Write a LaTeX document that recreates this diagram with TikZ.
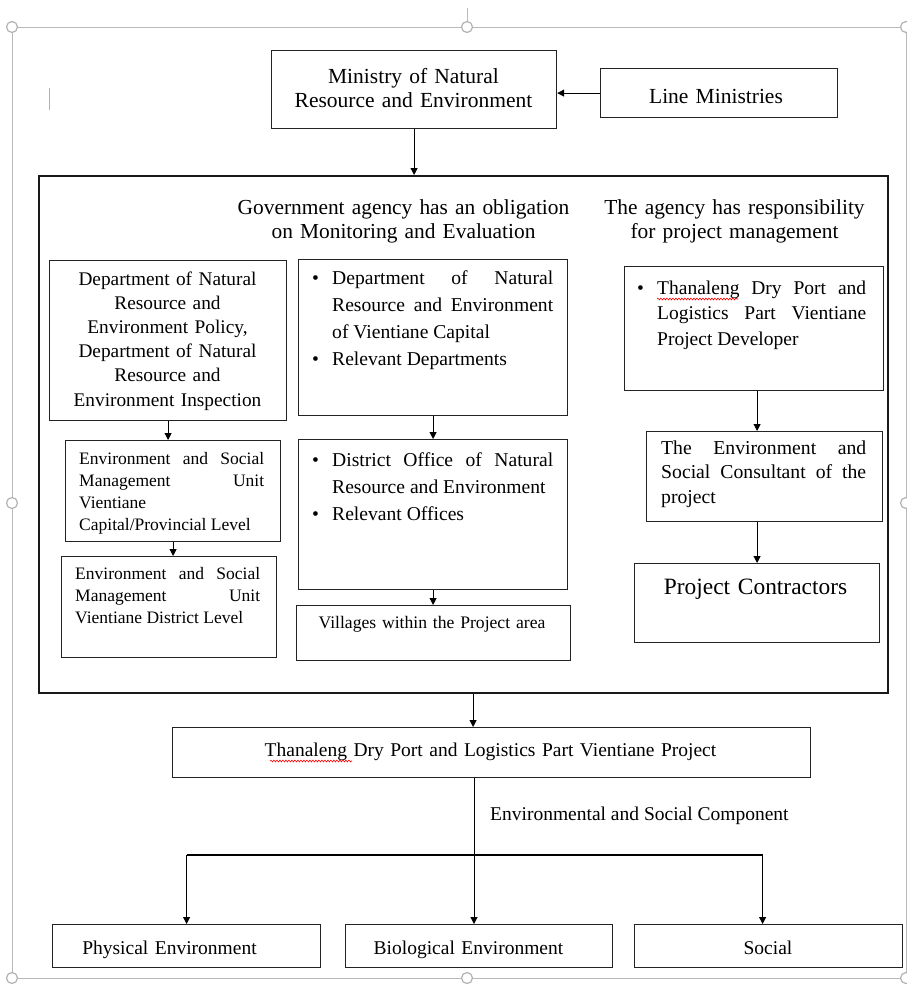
\documentclass[tikz,border=0pt]{standalone}
\usepackage{fontspec}
\setmainfont{Liberation Serif}
\usetikzlibrary{arrows.meta,decorations.pathmorphing}
\definecolor{boxc}{RGB}{35,35,35}
\newcommand{\bitem}[2]{\hangindent=#1\hangafter=1\makebox[#1][l]{\textbullet}#2}
\tikzset{
 bx/.style={draw=boxc, line width=1.2pt, inner sep=0pt, anchor=north west},
 tx/.style={inner sep=0pt, anchor=base west, align=justify},
 ctx/.style={inner sep=0pt, anchor=base, align=center},
 arr/.style={draw=black, line width=1pt, -{Triangle[length=7pt,width=7pt]}},
 frm/.style={draw=gray!55, line width=1pt},
 hdl/.style={draw=gray!60, fill=white, line width=1.2pt, circle, inner sep=0pt, minimum size=11pt},
 squig/.style={draw=red, line width=0.6pt, decorate, decoration={snake, segment length=3pt, amplitude=0.9pt}},
}
\begin{document}
\begin{tikzpicture}[x=1pt,y=-1pt]
\useasboundingbox (0,0) rectangle (907,988);
\hyphenpenalty=10000 \exhyphenpenalty=10000
% Word selection frame
\draw[frm] (12,27) -- (906,27) -- (906,978) -- (12,978) -- cycle;
\draw[frm] (467,8) -- (467,22);
\draw[gray!60, line width=1pt] (49,88) -- (49,110);
\node[hdl] (hTL) at (12,27) {};
\node[hdl] (hTM) at (467,27) {};
\node[hdl] (hTR) at (906,27) {};
\node[hdl] (hML) at (12,503) {};
\node[hdl] (hMR) at (906,503) {};
\node[hdl] (hBL) at (12,978) {};
\node[hdl] (hBM) at (467,978) {};
\node[hdl] (hBR) at (906,978) {};

% boxes
\node[bx, minimum width=285pt, minimum height=78pt] (min) at (271,50) {};
\node[bx, minimum width=237pt, minimum height=49pt] (lm) at (600,68) {};
\node[bx, draw=black!90, line width=2.2pt, minimum width=849pt, minimum height=517pt] (big) at (38,175) {};
\node[bx, minimum width=237pt, minimum height=160pt] (A) at (49,260) {};
\node[bx, minimum width=269pt, minimum height=156pt] (B) at (298,259) {};
\node[bx, minimum width=269pt, minimum height=150pt] (C) at (298,439) {};
\node[bx, minimum width=274pt, minimum height=55pt] (D) at (296,605) {};
\node[bx, minimum width=215pt, minimum height=101pt] (E) at (65,440) {};
\node[bx, minimum width=215pt, minimum height=101pt] (F) at (61,556) {};
\node[bx, minimum width=259pt, minimum height=124pt] (G) at (624,266) {};
\node[bx, minimum width=236pt, minimum height=90pt] (H) at (646,431) {};
\node[bx, minimum width=245pt, minimum height=79pt] (I) at (634,563) {};
\node[bx, minimum width=638pt, minimum height=50pt] (J) at (172,727) {};
\node[bx, minimum width=268pt, minimum height=43pt] (phys) at (52,924) {};
\node[bx, minimum width=267pt, minimum height=43pt] (bio) at (345,924) {};
\node[bx, minimum width=268pt, minimum height=43pt] (soc) at (634,924) {};

% texts
\node[ctx, text width=270pt, font=\fontsize{21.5}{24}\selectfont] (mint) at (413.5,83) {Ministry of Natural\\Resource and Environment};
\node[ctx, text width=220pt, font=\fontsize{21.5}{24}\selectfont] (lmt) at (716,103) {Line Ministries};
\node[ctx, text width=345pt, font=\fontsize{21.4}{24}\selectfont] (h1) at (403.5,214) {Government agency has an obligation\\on Monitoring and Evaluation};
\node[ctx, text width=275pt, font=\fontsize{21.4}{24}\selectfont] (h2) at (734.5,214) {The agency has responsibility\\for project management};
\node[ctx, text width=230pt, font=\fontsize{19.3}{24.2}\selectfont] (At) at (167.5,285) {Department of Natural\\Resource and\\Environment Policy,\\Department of Natural\\Resource and\\Environment Inspection};
\node[tx, text width=241pt, font=\fontsize{19.6}{27}\selectfont] (Bt) at (312,284) {\bitem{20pt}{Department of Natural\linebreak Resource and Environment\linebreak of Vientiane Capital}\par\bitem{20pt}{Relevant Departments}\par};
\node[tx, text width=241pt, font=\fontsize{19.6}{27}\selectfont] (Ct) at (312,466) {\bitem{20pt}{District Office of Natural\linebreak Resource and Environment}\par\bitem{20pt}{Relevant Offices}\par};
\node[ctx, text width=270pt, font=\fontsize{17.6}{22}\selectfont] (Dt) at (432,628) {Villages within the Project area};
\node[tx, text width=185pt, font=\fontsize{17.5}{22}\selectfont] (Et) at (79,464) {Environment and Social\linebreak Management Unit\linebreak Vientiane\newline Capital/Provincial Level};
\node[tx, text width=185pt, font=\fontsize{17.5}{22}\selectfont] (Ft) at (75,579) {Environment and Social\linebreak Management Unit\linebreak Vientiane District Level};
\node[tx, text width=229pt, font=\fontsize{19.5}{25.5}\selectfont] (Gt) at (637,294) {\bitem{20pt}{Thanaleng Dry Port and\linebreak Logistics Part Vientiane\linebreak Project Developer}\par};
\node[tx, text width=205pt, font=\fontsize{19.7}{24.5}\selectfont] (Ht) at (661,454) {The Environment and\linebreak Social Consultant of the\linebreak project};
\node[ctx, text width=240pt, font=\fontsize{23.4}{27}\selectfont] (It) at (755.5,594) {Project Contractors};
\node[ctx, text width=600pt, font=\fontsize{19.5}{24}\selectfont] (Jt) at (490.5,756) {Thanaleng Dry Port and Logistics Part Vientiane Project};
\node[inner sep=0pt, anchor=base west, font=\fontsize{19.5}{24}\selectfont] (comp) at (490,820) {Environmental and Social Component};
\node[ctx, text width=260pt, font=\fontsize{19.5}{24}\selectfont] (physt) at (169.5,954) {Physical Environment};
\node[ctx, text width=260pt, font=\fontsize{19.5}{24}\selectfont] (biot) at (468.5,954) {Biological Environment};
\node[ctx, text width=260pt, font=\fontsize{19.5}{24}\selectfont] (soct) at (768,954) {Social};

% spell-check squiggles
\draw[squig] ([xshift=20pt,yshift=-5pt]Gt.base west) -- ([xshift=101pt,yshift=-5pt]Gt.base west);
\draw[squig] (270,761) -- (352,761);

% connectors
\draw[arr] (lm.west) -- (lm.west -| min.east);
\draw[arr] (min.south) -- (min.south |- big.north);
\draw[arr] (A.south) -- (A.south |- E.north);
\draw[arr] (E.south) -- (E.south |- F.north);
\draw[arr] (B.south) -- (B.south |- C.north);
\draw[arr] (C.south) -- (C.south |- D.north);
\draw[arr] ([xshift=3pt]G.south) -- ([xshift=3pt]G.south |- H.north);
\draw[arr] (I.north |- H.south) -- (I.north);
\draw[arr] ([xshift=9.5pt]big.south) -- ([xshift=9.5pt]big.south |- J.north);
\coordinate (bx) at (474,855);
\draw[line width=1.8pt] (phys.north |- bx) -- ([xshift=-6pt]soc.north |- bx);
\draw[arr] (J.south -| bx) -- (bx |- bio.north);
\draw[arr] (phys.north |- bx) -- (phys.north);
\draw[arr] ([xshift=-6pt]soc.north |- bx) -- ([xshift=-6pt]soc.north);
\end{tikzpicture}
\end{document}
